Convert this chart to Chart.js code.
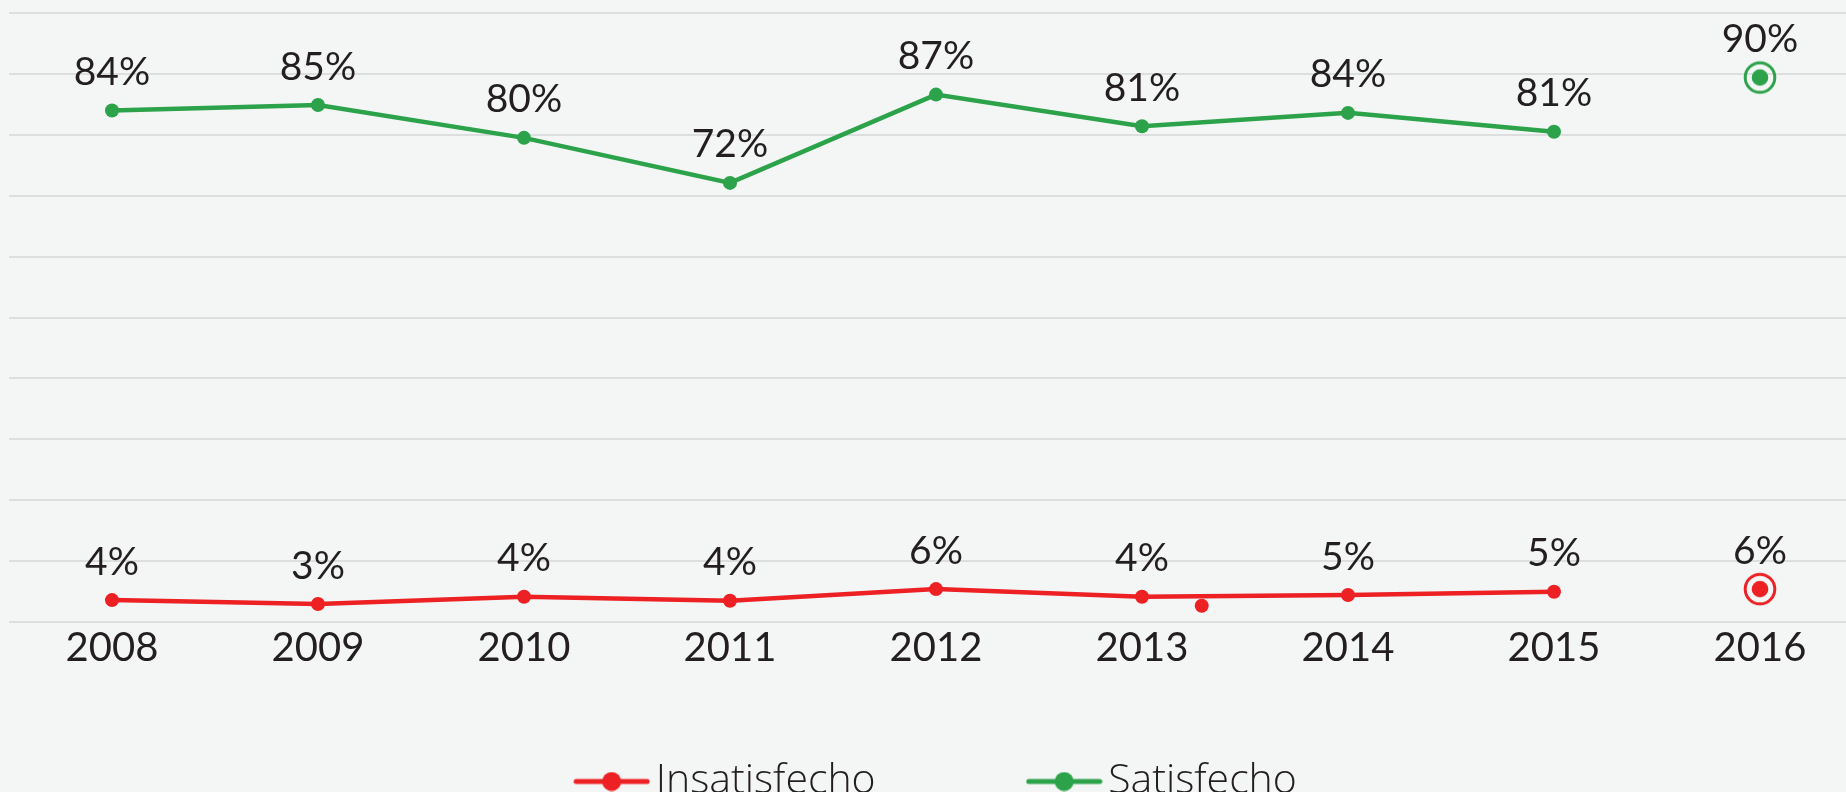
<!DOCTYPE html>
<html lang="es">
<head>
<meta charset="UTF-8">
<title>Satisfacción</title>
<script src="https://cdn.jsdelivr.net/npm/chart.js"></script>
<style>
  html, body { margin: 0; padding: 0; background: #f4f6f5; overflow: hidden; }
  #wrap { position: relative; width: 1846px; height: 890px; }
</style>
</head>
<body>
<div id="wrap">
  <canvas id="satChart"></canvas>
</div>
<script>
  const years = [2008, 2009, 2010, 2011, 2012, 2013, 2014, 2015, 2016];
  const insatisfecho = [3.6, 2.95, 4.15, 3.5, 5.4, 4.15, 4.43, 4.97, 5.4];
  const satisfecho = [84.0, 84.9, 79.5, 72.1, 86.6, 81.4, 83.6, 80.5, 89.4];
  const insatLabels = ['4%', '3%', '4%', '4%', '6%', '4%', '5%', '5%', '6%'];
  const satLabels = ['84%', '85%', '80%', '72%', '87%', '81%', '84%', '81%', '90%'];
  // the lone red dot between 2013 and 2014
  const strayX = [2013.29];
  const strayY = [2.67];

  const red = 'rgb(237, 32, 36)';
  const green = 'rgb(44, 162, 74)';
  const textColor = '#231f20';
  const lastYear = years[years.length - 1];

  // 2016 marker: ring + dot
  function ringMarker(color) {
    const c = document.createElement('canvas');
    c.width = 36; c.height = 36;
    const g = c.getContext('2d');
    g.strokeStyle = color;
    g.lineWidth = 3;
    g.beginPath(); g.arc(18, 18, 14.8, 0, Math.PI * 2); g.stroke();
    g.fillStyle = color;
    g.beginPath(); g.arc(18, 18, 8.3, 0, Math.PI * 2); g.fill();
    return c;
  }

  // legend symbol: line with dot
  function legendIcon(color) {
    const c = document.createElement('canvas');
    c.width = 77; c.height = 20;
    const g = c.getContext('2d');
    g.strokeStyle = color;
    g.lineWidth = 5;
    g.lineCap = 'round';
    g.beginPath(); g.moveTo(3, 10); g.lineTo(74, 10); g.stroke();
    g.fillStyle = color;
    g.beginPath(); g.arc(38.5, 10, 9.5, 0, Math.PI * 2); g.fill();
    return c;
  }

  function seriesDataset(label, values, labels, color) {
    const ring = ringMarker(color);
    return {
      label: label,
      data: years.map((y, i) => ({x: y, y: values[i]})),
      valueLabels: labels,
      borderColor: color,
      backgroundColor: color,
      borderWidth: 4.5,
      pointRadius: 7,
      pointHoverRadius: 7,
      pointBorderWidth: 0,
      pointStyle: years.map(y => y === lastYear ? ring : 'circle'),
      segment: {
        borderColor: ctx => ctx.p1.parsed.x === lastYear ? 'transparent' : undefined
      }
    };
  }

  const pctLabels = {
    id: 'pctLabels',
    afterDatasetsDraw(chart) {
      const ctx = chart.ctx;
      ctx.save();
      ctx.font = '39px Lato';
      ctx.fillStyle = textColor;
      ctx.textAlign = 'center';
      ctx.textBaseline = 'middle';
      chart.data.datasets.forEach((ds, i) => {
        if (!ds.valueLabels) return;
        chart.getDatasetMeta(i).data.forEach((pt, j) => {
          ctx.fillText(ds.valueLabels[j], pt.x, pt.y - 38);
        });
      });
      ctx.restore();
    }
  };

  // legend sits closer to the axis than its label padding would allow
  const legendShift = {
    id: 'legendShift',
    afterLayout(chart) {
      const lg = chart.legend;
      lg.top -= 78; lg.bottom -= 78;
      lg.left += 15; lg.right += 15;
    }
  };

  const icons = [legendIcon(red), legendIcon(green)];

  const satChart = new Chart(document.getElementById('satChart'), {
    type: 'line',
    data: {
      datasets: [
        seriesDataset('Insatisfecho', insatisfecho, insatLabels, red),
        seriesDataset('Satisfecho', satisfecho, satLabels, green),
        {
          label: '',
          data: strayX.map((x, i) => ({x: x, y: strayY[i]})),
          showLine: false,
          backgroundColor: red,
          borderColor: red,
          pointRadius: 7,
          pointBorderWidth: 0
        }
      ]
    },
    options: {
      responsive: true,
      maintainAspectRatio: false,
      animation: false,
      layout: { autoPadding: false, padding: { top: 13, left: 9, right: 0, bottom: 0 } },
      scales: {
        x: {
          type: 'linear',
          min: 2007.5,
          max: 2016.4175,
          afterBuildTicks: scale => { scale.ticks = years.map(v => ({value: v})); },
          grid: { display: false, drawTicks: false },
          border: { display: false },
          ticks: {
            padding: 2,
            color: textColor,
            font: { family: 'Lato', size: 40 },
            callback: v => String(v)
          }
        },
        y: {
          min: 0,
          max: 100,
          ticks: { display: false, stepSize: 10 },
          grid: { color: 'rgb(221, 222, 223)', lineWidth: 2, drawTicks: false },
          border: { display: false }
        }
      },
      plugins: {
        tooltip: { enabled: false },
        legend: {
          position: 'bottom',
          labels: {
            usePointStyle: true,
            pointStyleWidth: 47,
            padding: 165,
            color: textColor,
            font: { family: '"Open Sans"', size: 41, weight: 300 },
            generateLabels: chart => chart.data.datasets.slice(0, 2).map((ds, i) => ({
              text: ds.label,
              pointStyle: icons[i],
              fillStyle: ds.borderColor,
              strokeStyle: ds.borderColor,
              lineWidth: 0,
              fontColor: textColor,
              hidden: false,
              datasetIndex: i
            }))
          }
        }
      }
    },
    plugins: [pctLabels, legendShift]
  });
</script>
</body>
</html>
